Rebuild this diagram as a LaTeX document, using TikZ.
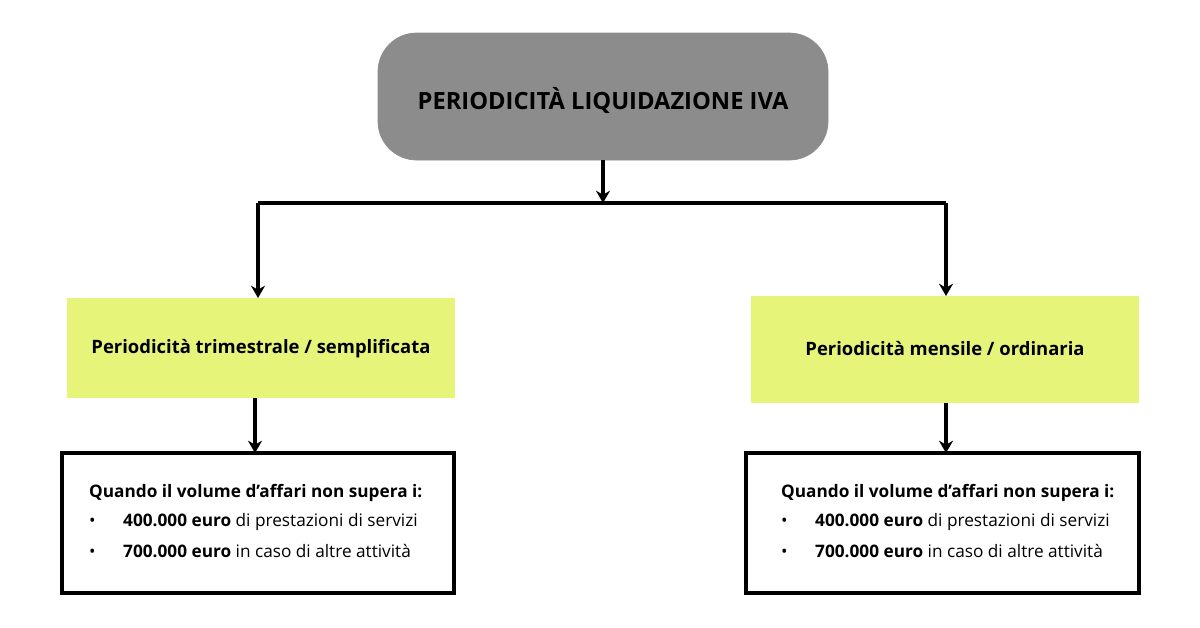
\documentclass[tikz,border=0pt]{standalone}
\usepackage{fontspec}
\setmainfont{Open Sans}
\usetikzlibrary{arrows.meta}
\definecolor{titlegray}{HTML}{8C8C8C}
\definecolor{limegreen}{HTML}{E6F57A}
\tikzset{
  conn/.style={line width=2.2pt, -{Stealth[length=7pt,width=8pt]}},
  greenbox/.style={fill=limegreen, draw=none, font=\bfseries\fontsize{10.5}{13}\selectfont},
  infobox/.style={draw=black, line width=1.8pt, fill=white}
}
\begin{document}
\begin{tikzpicture}[x=0.02cm,y=-0.02cm]
  \useasboundingbox (0,0) rectangle (1200,627);
  % title
  \filldraw[titlegray, rounded corners=22] (378,33) rectangle (828,160);
  \node[font=\bfseries\fontsize{13.5}{16}\selectfont] (title) at (603,100) {PERIODICITÀ LIQUIDAZIONE IVA};
  \coordinate (tb) at (603,160);
  \coordinate (split) at (603,203);
  \coordinate (lsplit) at (258,203);
  \coordinate (rsplit) at (946,203);
  % level two
  \fill[limegreen] (67,298) rectangle (455,398);
  \node[greenbox] (trim) at (261,349) {Periodicità trimestrale / semplificata};
  \fill[limegreen] (751,296) rectangle (1139,403);
  \node[greenbox] (mens) at (945,349) {Periodicità mensile / ordinaria};
  % bottom boxes
  \draw[infobox] (62,453) rectangle (454,593);
  \draw[infobox] (746,453) rectangle (1139,593);
  \foreach \x/\nm in {83/left, 775/right}{
    \node[anchor=west, font=\bfseries\fontsize{9.8}{12}\selectfont] (q\nm) at (\x,493) {Quando il volume d'affari non supera i:};
    \node[anchor=west, font=\fontsize{9.8}{12}\selectfont] (a\nm) at (\x,522) {•\hspace{1.6em}\textbf{400.000 euro} di prestazioni di servizi};
    \node[anchor=west, font=\fontsize{9.8}{12}\selectfont] (b\nm) at (\x,551) {•\hspace{1.6em}\textbf{700.000 euro} in caso di altre attività};
  }
  % connectors
  \draw[conn] (tb) -- (split);
  \draw[line width=2.2pt] (lsplit) -- (rsplit);
  \draw[conn] (lsplit) -- (258,298);
  \draw[conn] (rsplit) -- (946,296);
  \draw[conn] (255,398) -- (255,453);
  \draw[conn] (946,403) -- (946,453);
\end{tikzpicture}
\end{document}
